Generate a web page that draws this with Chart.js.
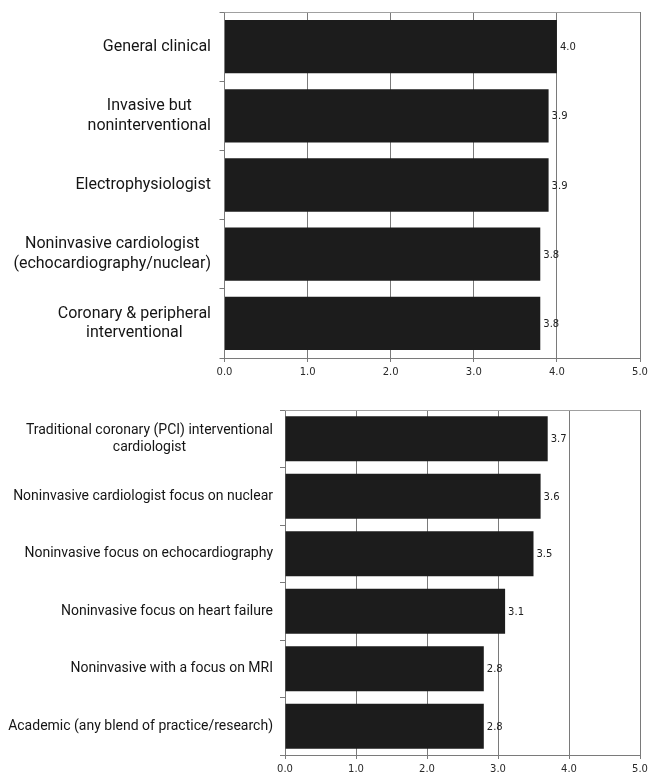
<!DOCTYPE html>
<html>
<head>
<meta charset="utf-8">
<script src="https://cdn.jsdelivr.net/npm/chart.js@4"></script>
<style>
  html, body { margin: 0; padding: 0; background: #fff; }
  #wrap { position: relative; width: 648px; height: 775px; overflow: hidden; }
  #top-box { position: absolute; left: 0; top: 0; width: 648px; height: 385px; }
  #bottom-box { position: absolute; left: 0; top: 385px; width: 648px; height: 390px; }
</style>
</head>
<body>
<div id="wrap">
  <div id="top-box"><canvas id="top-chart" width="648" height="385"></canvas></div>
  <div id="bottom-box"><canvas id="bottom-chart" width="648" height="390"></canvas></div>
</div>
<script>
// --- DATA ---
const topLabels = [
  ["General clinical"],
  ["Invasive but", "noninterventional"],
  ["Electrophysiologist"],
  ["Noninvasive cardiologist", "(echocardiography/nuclear)"],
  ["Coronary & peripheral", "interventional"]
];
const topValues = [4.0, 3.9, 3.9, 3.8, 3.8];

const bottomLabels = [
  ["Traditional coronary (PCI) interventional", "cardiologist"],
  ["Noninvasive cardiologist focus on nuclear"],
  ["Noninvasive focus on echocardiography"],
  ["Noninvasive focus on heart failure"],
  ["Noninvasive with a focus on MRI"],
  ["Academic (any blend of practice/research)"]
];
const bottomValues = [3.7, 3.6, 3.5, 3.1, 2.8, 2.8];

const xMin = 0;
const xMax = 5;
const xStep = 1;

// --- Plugin: category labels (centered block, right aligned to axis) + value labels ---
const labelPlugin = {
  id: "labelPlugin",
  afterDraw(chart, args, opts) {
    const ctx = chart.ctx;
    const area = chart.chartArea;
    const yScale = chart.scales.y;

    // top border of plot
    ctx.save();
    ctx.strokeStyle = "#a0a0a0";
    ctx.lineWidth = 1;
    ctx.beginPath();
    ctx.moveTo(area.left, Math.round(area.top) + 0.5);
    ctx.lineTo(area.right, Math.round(area.top) + 0.5);
    ctx.stroke();

    // category labels
    ctx.font = opts.fontSize + "px Roboto";
    ctx.fillStyle = "#151515";
    ctx.textAlign = "center";
    ctx.textBaseline = "middle";
    chart.data.labels.forEach((lines, i) => {
      const widest = Math.max(...lines.map(l => ctx.measureText(l).width));
      const cx = area.left - opts.gap - widest / 2;
      const cy = yScale.getPixelForValue(i);
      const lh = opts.lineHeight;
      lines.forEach((l, j) => {
        ctx.fillText(l, cx, cy + (j - (lines.length - 1) / 2) * lh);
      });
    });

    // value labels
    ctx.font = "10px 'DejaVu Sans'";
    ctx.fillStyle = "#222";
    ctx.textAlign = "left";
    const meta = chart.getDatasetMeta(0);
    meta.data.forEach((bar, i) => {
      const v = chart.data.datasets[0].data[i];
      ctx.fillText(v.toFixed(1), bar.x + 3, bar.y + 1);
    });
    ctx.restore();
  }
};

function makeChart(canvasId, labels, values, cfg) {
  const ctx = document.getElementById(canvasId).getContext("2d");
  return new Chart(ctx, {
    type: "bar",
    data: {
      labels: labels,
      datasets: [{
        data: values,
        backgroundColor: "#1c1c1c",
        borderWidth: 0,
        barPercentage: cfg.barPct,
        categoryPercentage: 1.0
      }]
    },
    options: {
      indexAxis: "y",
      responsive: false,
      animation: false,
      layout: { padding: { top: cfg.padTop, right: 8, bottom: 0, left: 0 } },
      plugins: {
        legend: { display: false },
        tooltip: { enabled: false },
        labelPlugin: { fontSize: cfg.fontSize, lineHeight: cfg.lineHeight, gap: cfg.gap }
      },
      scales: {
        x: {
          min: xMin,
          max: xMax,
          grid: { color: "#7a7a7a", lineWidth: 1, tickLength: 4, tickColor: "#7a7a7a" },
          border: { color: "#7a7a7a" },
          ticks: {
            stepSize: xStep,
            padding: 4,
            color: "#2a2a2a",
            font: { family: "DejaVu Sans", size: 10 },
            callback: (v) => Number(v).toFixed(1)
          },
          afterFit: (scale) => {
            scale.height = cfg.xHeight;
            scale.paddingRight = 0;
          }
        },
        y: {
          grid: { offset: true, drawOnChartArea: false, tickLength: 5, color: "#7a7a7a" },
          border: { color: "#7a7a7a" },
          ticks: { display: false },
          afterFit: (scale) => { scale.width = cfg.yWidth; }
        }
      }
    },
    plugins: [labelPlugin]
  });
}

document.addEventListener("DOMContentLoaded", () => {
  makeChart("top-chart", topLabels, topValues, {
    barPct: 0.77, padTop: 12, xHeight: 27, yWidth: 224.5,
    fontSize: 16, lineHeight: 19.5, gap: 13.5
  });
  makeChart("bottom-chart", bottomLabels, bottomValues, {
    barPct: 0.78, padTop: 25, xHeight: 20, yWidth: 285,
    fontSize: 14, lineHeight: 17, gap: 12
  });
});
</script>
</body>
</html>
